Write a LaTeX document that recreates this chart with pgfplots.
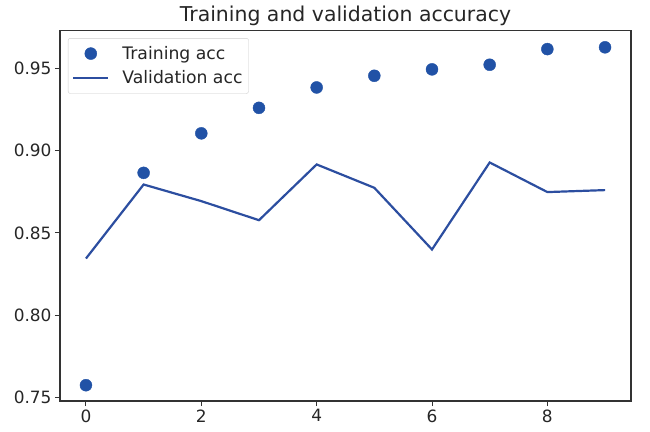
\documentclass[border=0pt]{standalone}
\usepackage{fontspec}
\setmainfont{DejaVu Sans}
\usepackage{pgfplots}
\pgfplotsset{compat=1.18}
\definecolor{mblue}{RGB}{33,82,166}
\definecolor{lblue}{RGB}{44,78,160}
\begin{document}
\begin{tikzpicture}
\useasboundingbox (-60bp,-31bp) rectangle (590bp,401bp);
\begin{axis}[
  at={(0,0)}, anchor=south west,
  scale only axis, width=571bp, height=370.3bp,
  xmin=-0.45, xmax=9.45, ymin=0.7478, ymax=0.9729,
  xtick={0,2,4,6,8}, ytick={0.75,0.80,0.85,0.90,0.95},
  xtick pos=bottom, ytick pos=left,
  tick align=outside, major tick length=5bp,
  every tick/.style={black!80, line width=1bp},
  axis line style={black!80, line width=1.1bp},
  ticklabel style={font=\fontsize{17}{20}\selectfont, text=black!85},
  /pgf/number format/assume math mode=true,
  yticklabel style={/pgf/number format/.cd, fixed, fixed zerofill, precision=2},
  xticklabel style={/pgf/number format/.cd, fixed, precision=0},
  scaled y ticks=false,
  title={Training and validation accuracy},
  title style={at={(0.5,1)}, anchor=base, yshift=3bp, font=\fontsize{20.5}{24}\selectfont, text=black!85},
  legend image code/.code={\draw[mark repeat=2,mark phase=2,#1] plot coordinates {(0bp,0bp) (17.5bp,0bp) (35bp,0bp)};},
  legend style={at={(0.014,0.980)}, anchor=north west, draw=black!20, rounded corners=2pt,
    font=\fontsize{17.3}{20}\selectfont, text=black!85, row sep=6bp, inner xsep=4bp, inner ysep=6bp,
    cells={anchor=west}, /tikz/every odd column/.append style={column sep=11bp}},
  legend cell align=left,
]
\addplot[only marks, mark=*, mark size=6bp, mblue, mark options={draw=mblue, fill=mblue}] coordinates {
(0,0.7574) (1,0.8865) (2,0.9105) (3,0.9260) (4,0.9384) (5,0.9455) (6,0.9494) (7,0.9522) (8,0.9617) (9,0.9628)};
\addlegendentry{Training acc}
\addplot[lblue, line width=2.2bp, no marks] coordinates {
(0,0.8344) (1,0.8794) (2,0.8693) (3,0.8577) (4,0.8916) (5,0.8774) (6,0.8399) (7,0.8928) (8,0.8748) (9,0.8760)};
\addlegendentry{Validation acc}
\end{axis}
\end{tikzpicture}
\end{document}
